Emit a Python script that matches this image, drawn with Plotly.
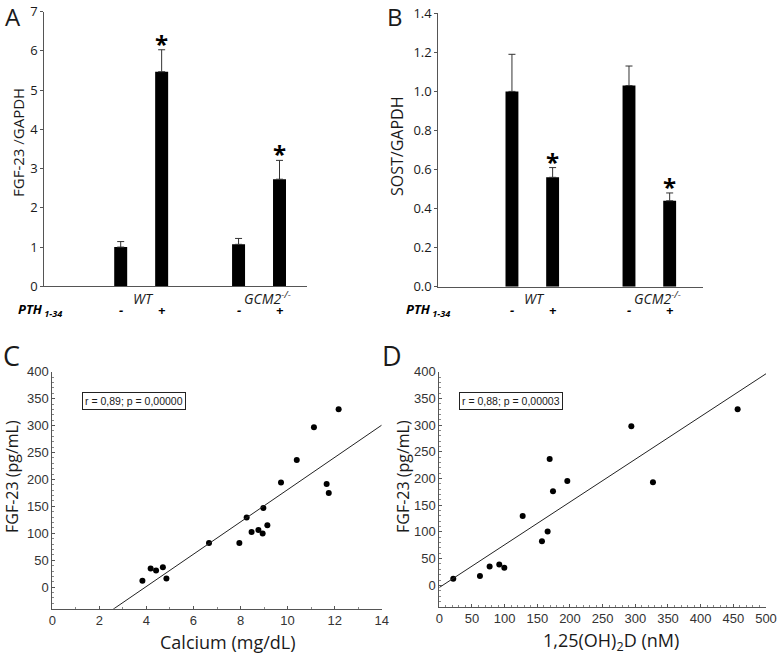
import numpy as np
import plotly.graph_objects as go

W, H = 777, 654

# ---------------- data ----------------
groups = ["WT", "GCM2"]
group_labels = ["<i>WT</i>", "<i>GCM2<sup>-/-</sup></i>"]
treatments = ["-", "+"]

# Panel A: FGF-23/GAPDH
a_minus = [1.00, 1.07]
a_minus_err = [0.14, 0.15]
a_plus = [5.47, 2.73]
a_plus_err = [0.56, 0.48]

# Panel B: SOST/GAPDH
b_minus = [1.00, 1.03]
b_minus_err = [0.19, 0.10]
b_plus = [0.56, 0.44]
b_plus_err = [0.05, 0.04]

# Panel C: Calcium vs FGF-23
calcium = [3.83, 4.18, 4.41, 4.70, 4.85, 6.66, 7.95, 8.26, 8.47, 8.76,
           8.94, 8.97, 9.14, 9.72, 10.39, 11.12, 11.66, 11.75, 12.17]
fgf_c = [11.7, 34.6, 30.9, 37.1, 16.1, 82.2, 82.2, 129.2, 102.6, 106.3,
         99.5, 147.1, 115.0, 194.1, 236.2, 296.8, 191.7, 175.0, 330.1]
stat_c = "r = 0,89; p = 0,00000"

# Panel D: 1,25(OH)2D vs FGF-23
vitd = [21.4, 62.2, 77.0, 91.8, 99.5, 127.6, 157.1, 165.8, 168.9, 174.0,
        195.9, 293.9, 327.0, 456.6]
fgf_d = [12.4, 17.4, 35.5, 39.2, 33.0, 130.0, 82.7, 100.8, 236.4, 176.0,
         195.3, 298.0, 192.8, 329.7]
stat_d = "r = 0,88; p = 0,00003"

# ---------------- helpers ----------------
def px(x):
    return x / W

def py(y):
    return 1 - y / H

BAR_FONT = "Open Sans, DejaVu Sans, sans-serif"
SC_FONT = "Liberation Sans, Arial, sans-serif"
TXT = "#1a1a1a"
AX = "#555555"
HALF = 0.1737  # half of the per-trace slot in category units
GROUP_LABEL_SHIFT = [2, 8]

fig = go.Figure()

def add_bars(xa, ya, minus, minus_err, plus, plus_err):
    for name, vals, errs in (("-", minus, minus_err), ("+", plus, plus_err)):
        fig.add_trace(go.Bar(
            x=groups, y=vals, name=name, xaxis=xa, yaxis=ya,
            marker=dict(color="black", line=dict(width=0)),
            error_y=dict(type="data", array=errs, arrayminus=[0] * len(errs),
                         symmetric=False, visible=True,
                         color="#333333", thickness=1, width=3.5),
            showlegend=False))

add_bars("x", "y", a_minus, a_minus_err, a_plus, a_plus_err)
add_bars("x2", "y2", b_minus, b_minus_err, b_plus, b_plus_err)

# scatter + OLS fits
def add_scatter(xa, ya, xs, ys, xmax):
    fig.add_trace(go.Scatter(x=xs, y=ys, mode="markers", xaxis=xa, yaxis=ya,
                             marker=dict(color="black", size=6),
                             showlegend=False))
    slope, icpt = np.polyfit(xs, ys, 1)
    lx = np.array([0, xmax])
    fig.add_trace(go.Scatter(x=lx, y=slope * lx + icpt, mode="lines",
                             xaxis=xa, yaxis=ya,
                             line=dict(color="#222222", width=1),
                             showlegend=False))

add_scatter("x3", "y3", calcium, fgf_c, 14)
add_scatter("x4", "y4", vitd, fgf_d, 500)

annotations = []

def ann(**kw):
    kw.setdefault("showarrow", False)
    kw.setdefault("xanchor", "center")
    kw.setdefault("yanchor", "middle")
    annotations.append(kw)

# stars above "+" bars
for xr, yr, plus, plus_err in (("x", "y", a_plus, a_plus_err),
                               ("x2", "y2", b_plus, b_plus_err)):
    for i, (v, e) in enumerate(zip(plus, plus_err)):
        ann(x=i + HALF, y=v + e, xref=xr, yref=yr, text="<b>*</b>",
            yanchor="bottom", yshift=-12,
            font=dict(family=BAR_FONT, size=24, color="black"))

# group labels, -/+ labels and PTH labels
for xr, pth_x in (("x", 40), ("x2", 428)):
    for i in range(len(groups)):
        ann(x=i, y=py(298), xref=xr, yref="paper", text=group_labels[i],
            xshift=GROUP_LABEL_SHIFT[i],
            font=dict(family=BAR_FONT, size=14, color=TXT))
        for off, t in ((-HALF, treatments[0]), (HALF, treatments[1])):
            ann(x=i + off, y=py(310), xref=xr, yref="paper",
                text="<b><i>%s</i></b>" % t,
                font=dict(family=BAR_FONT, size=13, color="black"))
    ann(x=px(pth_x), y=py(310), xref="paper", yref="paper",
        text="<b><i>PTH</i></b><sub><b><i> 1-34</i></b></sub>",
        font=dict(family=BAR_FONT, size=13, color="black"))

# panel letters
for t, x, y, s in (("A", 13, 16, 24), ("B", 395, 16, 24),
                   ("C", 11, 355, 27), ("D", 392, 355, 27)):
    ann(x=px(x), y=py(y), xref="paper", yref="paper", text=t,
        font=dict(family=BAR_FONT, size=s, color=TXT))

# axis titles
for t, x, y, s, ang in (("FGF-23 /GAPDH", 18, 143, 15, -90),
                        ("SOST/GAPDH", 397, 147, 16, -90),
                        ("FGF-23 (pg/mL)", 12, 477, 16, -90),
                        ("FGF-23 (pg/mL)", 403, 477, 16, -90),
                        ("Calcium (mg/dL)", 228, 642, 18, 0),
                        ("1,25(OH)<sub>2</sub>D (nM)", 611, 641, 18, 0)):
    ann(x=px(x), y=py(y), xref="paper", yref="paper", text=t, textangle=ang,
        font=dict(family=BAR_FONT, size=s, color=TXT))

# stats boxes
for t, x in ((stat_c, 134), (stat_d, 511)):
    ann(x=px(x), y=py(401), xref="paper", yref="paper", text=t,
        bordercolor="#222222", borderwidth=1, borderpad=2, bgcolor="white",
        font=dict(family=SC_FONT, size=10.5, color=TXT))

bar_x = dict(type="category", showline=True, linecolor=AX, linewidth=1,
             ticks="", showgrid=False, zeroline=False, showticklabels=False,
             automargin=False)
bar_y = dict(showline=True, linecolor=AX, linewidth=1, ticks="outside",
             ticklen=3, tickcolor=AX, showgrid=False, zeroline=False,
             automargin=False,
             tickfont=dict(family=BAR_FONT, size=13, color=TXT))

sc_x = dict(showline=True, linecolor=AX, linewidth=1, ticks="inside",
            ticklen=3, tickcolor=AX, showgrid=False, zeroline=False,
            automargin=False,
            tickfont=dict(family=SC_FONT, size=13, color="#333333"))
sc_y = dict(showline=True, linecolor=AX, linewidth=1, ticks="inside",
            ticklen=3, tickcolor=AX, showgrid=False, zeroline=False,
            automargin=False, range=[-40, 400], dtick=50,
            minor=dict(ticks="inside", ticklen=2, dtick=10, tickcolor="#888888"),
            tickfont=dict(family=SC_FONT, size=13, color="#333333"))

fig.update_layout(
    width=W, height=H, margin=dict(l=0, r=0, t=0, b=0, autoexpand=False),
    paper_bgcolor="white", plot_bgcolor="white",
    barmode="group", bargap=0.305, bargroupgap=0.683,
    xaxis=dict(bar_x, domain=[px(44.3), px(307)], range=[-0.822, 1.407], anchor="y"),
    yaxis=dict(bar_y, domain=[py(286.3), py(11.7)], range=[0, 7], dtick=1, anchor="x"),
    xaxis2=dict(bar_x, domain=[px(438.3), px(702.7)], range=[-0.803, 1.456], anchor="y2"),
    yaxis2=dict(bar_y, domain=[py(286.7), py(13.3)], range=[0, 1.4], dtick=0.2,
                tickformat=".1f", anchor="x2"),
    xaxis3=dict(sc_x, domain=[px(52.3), px(381.7)], range=[0, 14], dtick=2,
                minor=dict(ticks="inside", ticklen=2, dtick=1, tickcolor="#888888"),
                anchor="y3"),
    yaxis3=dict(sc_y, domain=[py(608.7), py(371.7)], anchor="x3"),
    xaxis4=dict(sc_x, domain=[px(439.3), px(766)], range=[0, 500], dtick=50,
                minor=dict(ticks="inside", ticklen=2, dtick=10, tickcolor="#888888"),
                anchor="y4"),
    yaxis4=dict(sc_y, domain=[py(606.7), py(371.7)], anchor="x4"),
    annotations=annotations,
)

fig.write_html("out.html",
               config={"displayModeBar": False},
               post_script="document.body.style.margin='0';"
                           "document.body.style.overflow='hidden';")
